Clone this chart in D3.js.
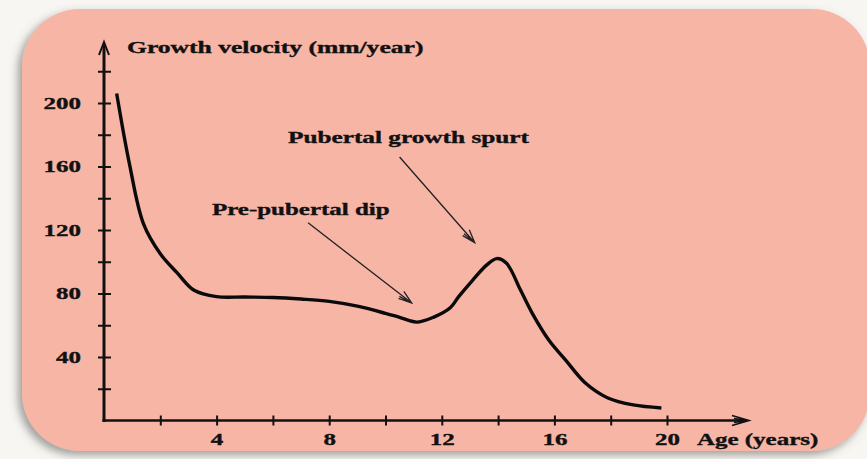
<!DOCTYPE html>
<html>
<head>
<meta charset="utf-8">
<script src="https://cdn.jsdelivr.net/npm/d3@7"></script>
<style>
  body { margin: 0; background: #f7f6f2; }
  svg { display: block; }
  text { font-family: "Liberation Serif", "DejaVu Serif", serif; font-weight: bold; fill: #111; stroke: #111; stroke-width: 0.35; }
</style>
</head>
<body>
<div id="chart"></div>
<script>
// growth velocity curve
const ages = [0.45, 0.9, 1.4, 2.0, 2.6, 3.2, 4, 5, 6, 7, 8, 9, 10, 10.5, 11.1, 11.7, 12.3, 12.6, 13.1, 13.6, 13.95, 14.3, 14.8, 15.2, 15.8, 16.4, 17.1, 17.9, 18.8, 19.8];
const velocity = [206, 162, 124, 105, 93, 82, 78, 77.8, 77.5, 76.5, 75, 72, 67.5, 65, 62, 65, 71, 78, 88.5, 98, 102, 99, 82, 68, 50.7, 38, 23.6, 14.2, 9.8, 7.9];

const xTicks = [2, 4, 6, 8, 10, 12, 14, 16, 18, 20];
const xLabels = [4, 8, 12, 16, 20];
const yTicks = [20, 40, 60, 80, 100, 120, 140, 160, 180, 200, 220];
const yLabels = [40, 80, 120, 160, 200];

const width = 867,
  height = 459;
const stretch = 1.56; // text in the picture is drawn wide

const svg = d3
  .select("#chart")
  .append("svg")
  .attr("width", width)
  .attr("height", height);

const defs = svg.append("defs");
const shadow = defs.append("filter").attr("id", "shadow")
  .attr("x", "-10%").attr("y", "-10%").attr("width", "120%").attr("height", "125%");
shadow.append("feDropShadow")
  .attr("dx", -4).attr("dy", 4).attr("stdDeviation", 4)
  .attr("flood-color", "#555").attr("flood-opacity", 0.55);

const shine = defs.append("linearGradient").attr("id", "shine");
shine.append("stop").attr("offset", "0%").attr("stop-color", "#fff").attr("stop-opacity", 0);
shine.append("stop").attr("offset", "12%").attr("stop-color", "#fff").attr("stop-opacity", 0.9);
shine.append("stop").attr("offset", "88%").attr("stop-color", "#fff").attr("stop-opacity", 0.9);
shine.append("stop").attr("offset", "100%").attr("stop-color", "#fff").attr("stop-opacity", 0);

const blur = defs.append("filter").attr("id", "blur");
blur.append("feGaussianBlur").attr("stdDeviation", 1);

// pink panel
svg.append("rect")
  .attr("x", 22).attr("y", 9)
  .attr("width", 848).attr("height", 442)
  .attr("rx", 58)
  .attr("fill", "#f7b5a6")
  .attr("filter", "url(#shadow)");

svg.append("line")
  .attr("x1", 70).attr("x2", 820).attr("y1", 12).attr("y2", 12)
  .attr("stroke", "url(#shine)").attr("stroke-width", 2.5)
  .attr("filter", "url(#blur)");
svg.append("line")
  .attr("x1", 70).attr("x2", 820).attr("y1", 448).attr("y2", 448)
  .attr("stroke", "url(#shine)").attr("stroke-width", 3)
  .attr("filter", "url(#blur)");

const x = d3.scaleLinear().domain([0, 20]).range([104, 667]);
const y = d3.scaleLinear().domain([0, 200]).range([420.5, 103]);

const x0 = x(0),
  y0 = y(0);

// axes
const yAxis = svg.append("g")
  .attr("transform", `translate(${x0},0)`)
  .call(d3.axisLeft(y).tickValues(yTicks).tickSize(7)
    .tickFormat((d) => (yLabels.includes(d) ? d : "")));
yAxis.select(".domain").remove();
yAxis.selectAll(".tick line").attr("x1", -6).attr("x2", 7)
  .attr("stroke", "#111").attr("stroke-width", 2);
yAxis.selectAll(".tick text")
  .attr("x", -23 / stretch).attr("dy", "0.34em")
  .attr("transform", `scale(${stretch},1)`)
  .attr("font-size", 16).attr("font-family", null);

const xAxis = svg.append("g")
  .attr("transform", `translate(0,${y0})`)
  .call(d3.axisBottom(x).tickValues(xTicks).tickSize(5)
    .tickFormat((d) => (xLabels.includes(d) ? d : "")));
xAxis.select(".domain").remove();
xAxis.selectAll(".tick line").attr("y1", -5).attr("y2", 5)
  .attr("stroke", "#111").attr("stroke-width", 2);
xAxis.selectAll(".tick text")
  .attr("y", 25).attr("dy", 0)
  .attr("transform", `scale(${stretch},1)`)
  .attr("font-size", 16).attr("font-family", null);

svg.append("line")
  .attr("x1", x0).attr("x2", x0).attr("y1", y0 + 1.5).attr("y2", 44)
  .attr("stroke", "#111").attr("stroke-width", 3);
svg.append("line")
  .attr("x1", x0 - 1.5).attr("x2", 746).attr("y1", y0).attr("y2", y0)
  .attr("stroke", "#111").attr("stroke-width", 2.5);

// axis arrow heads
svg.append("path")
  .attr("d", `M${x0 - 5},55 L${x0},42 L${x0 + 5},55`)
  .attr("fill", "none").attr("stroke", "#111").attr("stroke-width", 2);
svg.append("path")
  .attr("d", `M732,${y0 - 5} L749,${y0} L732,${y0 + 5} M734,${y0 - 2} L747,${y0} L734,${y0 + 2}`)
  .attr("fill", "none").attr("stroke", "#111").attr("stroke-width", 1.6);

function label(txt, px, py, anchor, sx) {
  svg.append("text")
    .attr("transform", `translate(${px},${py}) scale(${sx || stretch},1)`)
    .attr("text-anchor", anchor || "start")
    .attr("dy", "0.34em")
    .attr("font-size", 16)
    .text(txt);
}

label("Growth velocity (mm/year)", 127, 48, "start", 1.6);
label("Age (years)", 697, 440);
label("Pre-pubertal dip", 212, 210);
label("Pubertal growth spurt", 288, 138, "start", 1.58);

// annotation arrows
function arrow(fx, fy, tx, ty) {
  const a = Math.atan2(ty - fy, tx - fx);
  const len = 14,
    spread = 0.32;
  const b1 = [tx - len * Math.cos(a - spread), ty - len * Math.sin(a - spread)];
  const b2 = [tx - len * Math.cos(a + spread), ty - len * Math.sin(a + spread)];
  const b3 = [tx - len * Math.cos(a - spread / 2), ty - len * Math.sin(a - spread / 2)];
  svg.append("path")
    .attr("d", `M${fx},${fy} L${tx},${ty} M${b1} L${tx},${ty} L${b2} M${b3} L${tx},${ty}`)
    .attr("fill", "none").attr("stroke", "#222").attr("stroke-width", 1.3);
}
arrow(x(7.25), y(124.5), x(10.93), y(74));
arrow(x(10.5), y(166), x(13.17), y(112));

// curve
const points = ages.map((a, i) => [a, velocity[i]]);
const line = d3.line()
  .x((d) => x(d[0]))
  .y((d) => y(d[1]))
  .curve(d3.curveCatmullRom.alpha(0.5));

svg.append("path")
  .datum(points)
  .attr("d", line)
  .attr("fill", "none")
  .attr("stroke", "#0a0a0a")
  .attr("stroke-width", 3.4)
  .attr("stroke-linejoin", "round");
</script>
</body>
</html>
